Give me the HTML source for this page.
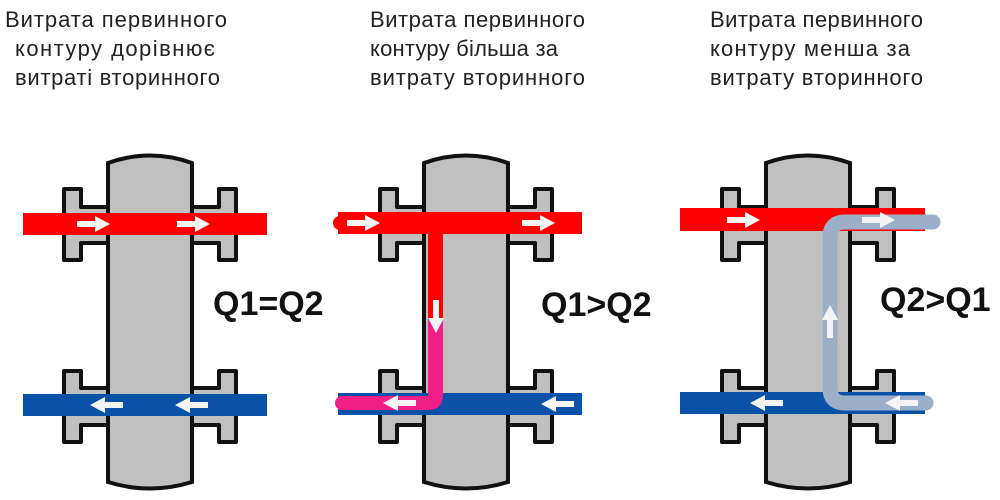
<!DOCTYPE html>
<html><head><meta charset="utf-8"><style>
body{margin:0;background:#fff;width:1000px;height:500px;overflow:hidden}
svg{display:block}
.t{font-family:"Liberation Sans",sans-serif;font-size:22px;fill:#222}
.q{font-family:"Liberation Sans",sans-serif;font-size:34px;font-weight:bold;fill:#111}
</style></head><body>
<svg width="1000" height="500" viewBox="0 0 1000 500">
<defs>
<g id="body">
  <g fill="#c0c0c0" stroke="#111" stroke-width="4" stroke-linejoin="round">
    <path d="M64,189 H81 V207 H108 V243 H81 V260 H64 Z"/>
    <path d="M236,189 H219 V207 H192 V243 H219 V260 H236 Z"/>
    <path d="M64,371 H81 V388 H108 V425 H81 V442 H64 Z"/>
    <path d="M236,371 H219 V388 H192 V425 H219 V442 H236 Z"/>
  </g>
  <path d="M108,163 Q150,148 192,163 V482 Q150,495 108,482 Z" fill="#c0c0c0" stroke="#111" stroke-width="4"/>
</g>
<g id="ar"><path d="M-18,-3 H0 V-8 L15,0 L0,8 V3 H-18 Z" fill="#f4f4f4"/></g>
</defs>

<text class="t" x="5" y="27" textLength="222">Витрата первинного</text>
<text class="t" x="15" y="56" textLength="200">контуру дорівнює</text>
<text class="t" x="15" y="85" textLength="205">витраті вторинного</text>
<text class="t" x="370" y="27" textLength="215">Витрата первинного</text>
<text class="t" x="370" y="56" textLength="188">контуру більша  за</text>
<text class="t" x="370" y="85" textLength="215">витрату  вторинного</text>
<text class="t" x="710" y="27" textLength="213">Витрата первинного</text>
<text class="t" x="710" y="56" textLength="200">контуру менша за</text>
<text class="t" x="710" y="85" textLength="213">витрату  вторинного</text>

<use href="#body"/>
<rect x="23" y="213" width="244" height="22" fill="#ff0000"/>
<rect x="23" y="394" width="244" height="22" fill="#0a52a8"/>
<use href="#ar" transform="translate(95,224)"/>
<use href="#ar" transform="translate(195,224)"/>
<use href="#ar" transform="translate(105,405) scale(-1,1)"/>
<use href="#ar" transform="translate(190,405) scale(-1,1)"/>
<text class="q" x="213" y="315">Q1=Q2</text>

<g transform="translate(316,0)"><use href="#body"/></g>
<rect x="338" y="212" width="244" height="22" fill="#ff0000"/>
<rect x="338" y="393" width="244" height="22" fill="#0a52a8"/>
<rect x="428" y="230" width="15" height="90" fill="#ff0000"/>
<path d="M428,320 H443 V395 Q443,410 428,410 H342 A7,7 0 0 1 342,396 H428 Z" fill="#f01f88"/>
<circle cx="340" cy="223" r="7" fill="#ff0000"/>
<use href="#ar" transform="translate(365,223)"/>
<use href="#ar" transform="translate(540,223)"/>
<use href="#ar" transform="translate(436,318) rotate(90)"/>
<use href="#ar" transform="translate(398,403) scale(-1,1)"/>
<use href="#ar" transform="translate(556,404) scale(-1,1)"/>
<text class="q" x="541" y="316">Q1&gt;Q2</text>

<g transform="translate(658,0)"><use href="#body"/></g>
<rect x="680" y="208" width="245" height="23" fill="#ff0000"/>
<rect x="680" y="392" width="245" height="22" fill="#0a52a8"/>
<path d="M933,222 H845 Q830,222 830,237 V388 Q830,403 845,403 H926" fill="none" stroke="#9bb0c8" stroke-width="15" stroke-linecap="round"/>
<use href="#ar" transform="translate(745,220)"/>
<use href="#ar" transform="translate(880,220)"/>
<use href="#ar" transform="translate(830,320) rotate(-90)"/>
<use href="#ar" transform="translate(765,403) scale(-1,1)"/>
<use href="#ar" transform="translate(900,403) scale(-1,1)"/>
<text class="q" x="880" y="311">Q2&gt;Q1</text>
</svg>
</body></html>
